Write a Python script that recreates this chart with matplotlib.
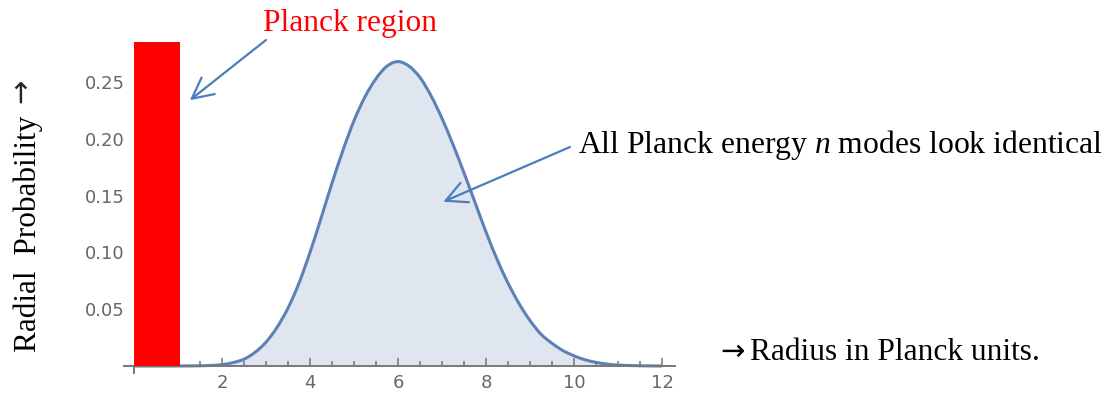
import matplotlib
matplotlib.use("Agg")
import matplotlib.pyplot as plt
from matplotlib.path import Path
from matplotlib.patches import PathPatch

plt.rcParams['mathtext.fontset'] = 'custom'
plt.rcParams['mathtext.rm'] = 'Liberation Serif'
plt.rcParams['mathtext.it'] = 'Liberation Serif:italic'

# radial probability
radius = [0, 0.5, 1, 1.5, 1.75, 2, 2.25, 2.5, 2.75, 3, 3.25, 3.5, 3.75, 4,
          4.25, 4.5, 4.75, 5, 5.25, 5.5, 5.75, 6, 6.25, 6.5,
          6.75, 7, 7.25, 7.5, 7.75, 8, 8.25, 8.5, 8.75, 9, 9.25, 9.5, 9.75,
          10, 10.25, 10.5, 10.75, 11, 11.5, 12]
prob = [0, 0, 0, 0.0002, 0.0005, 0.0012, 0.003, 0.006, 0.012, 0.021, 0.034,
        0.051, 0.073, 0.100, 0.130, 0.161, 0.190, 0.216, 0.237, 0.253, 0.264,
        0.268, 0.264, 0.254, 0.238, 0.218, 0.195, 0.170,
        0.144, 0.118, 0.094, 0.073, 0.055, 0.040, 0.028, 0.020, 0.0135,
        0.009, 0.0055, 0.0032, 0.0017, 0.0008, 0.0002, 0]

planck_left = 0
planck_width = 1.05
planck_height = 0.285

xticks_major = [2, 4, 6, 8, 10, 12]
yticks = [0.05, 0.10, 0.15, 0.20, 0.25]

line_col = '#5E81B5'
fill_col = '#DFE6F0'
axis_col = '#777777'
arrow_col = '#4A7EBB'


def smooth_path(xs, ys, closed_base=False):
    # Catmull-Rom through the read points, drawn as cubic Bezier segments
    verts = [(xs[0], ys[0])]
    codes = [Path.MOVETO]
    n = len(xs)
    for i in range(n - 1):
        x0, y0 = (xs[i - 1], ys[i - 1]) if i > 0 else (xs[i], ys[i])
        x1, y1 = xs[i], ys[i]
        x2, y2 = xs[i + 1], ys[i + 1]
        x3, y3 = (xs[i + 2], ys[i + 2]) if i + 2 < n else (x2, y2)
        verts += [(x1 + (x2 - x0) / 6, y1 + (y2 - y0) / 6),
                  (x2 - (x3 - x1) / 6, y2 - (y3 - y1) / 6),
                  (x2, y2)]
        codes += [Path.CURVE4] * 3
    if closed_base:
        verts += [(xs[-1], 0), (xs[0], 0), (xs[0], 0)]
        codes += [Path.LINETO, Path.LINETO, Path.CLOSEPOLY]
    return Path(verts, codes)


fig = plt.figure(figsize=(11.1, 4.03), dpi=100)
ax = fig.add_axes([0.112, 0.0749, 0.4963, 0.8258])
ax.set_xlim(-0.22, 12.3)
ax.set_ylim(-0.006, 0.287)

ax.add_patch(PathPatch(smooth_path(radius, prob, True), facecolor=fill_col,
                       edgecolor='none', zorder=1))
ax.add_patch(PathPatch(smooth_path(radius, prob), facecolor='none',
                       edgecolor=line_col, lw=2.2, zorder=2))
ax.bar(planck_left, planck_height, width=planck_width, align='edge',
       color='#FF0000', zorder=4, clip_on=False)

for s in ['top', 'right']:
    ax.spines[s].set_visible(False)
ax.spines['bottom'].set_position(('data', 0))
ax.spines['left'].set_position(('data', 0))
ax.spines['left'].set_bounds(-0.006, 0)
for s in ['bottom', 'left']:
    ax.spines[s].set_color(axis_col)
    ax.spines[s].set_linewidth(1.4)

ax.set_xticks(xticks_major)
ax.set_xticks([x * 0.5 for x in range(1, 25) if x % 4], minor=True)
ax.tick_params(axis='x', which='major', direction='in', length=5.5,
               width=1.1, color=axis_col, pad=6, labelsize=13,
               labelcolor='#666666')
ax.tick_params(axis='x', which='minor', direction='in', length=3.6,
               width=1.1, color=axis_col)
ax.set_yticks(yticks)
ax.set_yticklabels(['%.2f' % v for v in yticks])
ax.tick_params(axis='y', length=0, pad=6.5, labelsize=13,
               labelcolor='#666666')

serif = ['Liberation Serif', 'DejaVu Serif']

fig.text(263, 372, 'Planck region', transform=None, family=serif,
         fontsize=22.6, color='#FF0000', ha='left', va='baseline')
fig.text(578, 250, 'All Planck energy $n$ modes look identical',
         transform=None, family=serif, fontsize=22.8, color='black',
         ha='left', va='baseline')

# x label with a long thin arrow in front
fig.text(750, 43, 'Radius in Planck units.', transform=None,
         family=serif, fontsize=22.6, color='black', ha='left',
         va='baseline')
fig.text(732, 51, '\u2192', transform=None, family='DejaVu Sans',
         fontsize=21, color='black', ha='center', va='center')

# y label, arrow at the top
fig.text(28, 169, 'Radial  Probability', transform=None,
         family=serif, fontsize=22.5, color='black', rotation=90,
         ha='center', va='center')
fig.text(21, 312, '\u2192', transform=None, family='DejaVu Sans',
         fontsize=21, color='#222222', rotation=90, ha='center',
         va='center')

arrow = dict(arrowstyle='->,head_length=0.75,head_width=0.38',
             color=arrow_col, lw=1.6, shrinkA=0, shrinkB=0,
             mutation_scale=20)
ax.annotate('', xy=(1.27, 0.234), xycoords='data',
            xytext=(266, 363), textcoords='figure pixels',
            arrowprops=arrow, annotation_clip=False)
ax.annotate('', xy=(7.03, 0.1446), xycoords='data',
            xytext=(570, 256), textcoords='figure pixels',
            arrowprops=arrow, annotation_clip=False)

fig.savefig('out.png', dpi=100)
